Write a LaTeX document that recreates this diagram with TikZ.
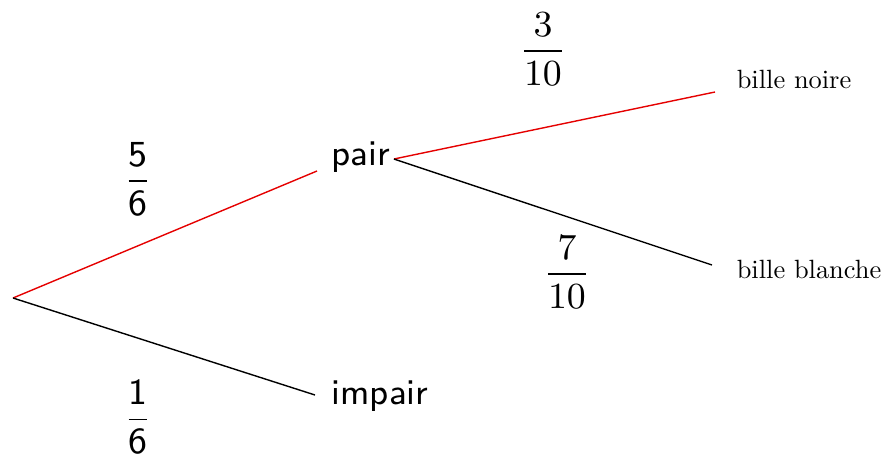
\RequirePackage{fix-cm}
\documentclass[tikz,border=0pt]{standalone}
\usepackage{amsmath}
\usepackage{fontspec}
\newfontfamily\leaffont{lmroman10-regular.otf}
\begin{document}
\begin{tikzpicture}[x=0.25pt,y=-0.25pt,
  branch/.style={line width=0.35pt},
  redbranch/.style={branch,draw=red!90!black},
  blackbranch/.style={branch,draw=black},
  level/.style={inner sep=0pt,anchor=base west,font=\sffamily\fontsize{9}{11}\selectfont},
  leaf/.style={inner sep=0pt,anchor=base west,font=\leaffont\fontsize{6.6}{8}\selectfont},
  prob/.style={inner sep=0pt,font=\fontsize{9.2}{11}\selectfont}]
\useasboundingbox (0,0) rectangle (889,461);
\coordinate (root) at (13,298);
\node[level] (pair) at (331,165) {pair};
\node[level] (impair) at (331,404) {impair};
\node[leaf] (noire) at (736,88) {bille noire};
\node[leaf] (blanche) at (736,278) {bille blanche};
\node[prob] (p56) at (138,179) {$\dfrac{\textsf{5}}{\textsf{6}}$};
\node[prob] (p16) at (138,417) {$\dfrac{\textsf{1}}{\textsf{6}}$};
\node[prob] (p310) at (543,49) {$\dfrac{3}{10}$};
\node[prob] (p710) at (567,272) {$\dfrac{7}{10}$};
\draw[redbranch] (root) -- ([shift={(-3.5pt,-1.5pt)}]pair.base west);
\draw[blackbranch] (root) -- ([shift={(-4pt,2.25pt)}]impair.base west);
\draw[redbranch] ([shift={(0.75pt,1.5pt)}]pair.base east) -- ([shift={(-5.25pt,-1pt)}]noire.base west);
\draw[blackbranch] ([shift={(0.75pt,1.5pt)}]pair.base east) -- ([shift={(-6pt,3.25pt)}]blanche.base west);
\end{tikzpicture}
\end{document}
